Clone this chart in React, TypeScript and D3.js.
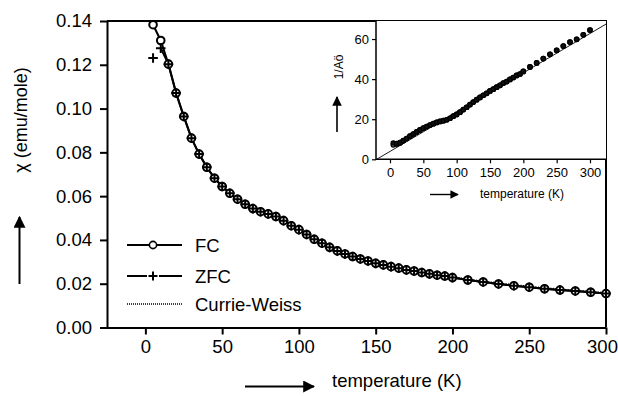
import React, { useEffect, useRef } from 'react';
import * as d3 from 'd3';

// temperatures (K) of the measured points
const temps = [
  5, 10, 15, 20, 25, 30, 35, 40, 45, 50, 55, 60, 65, 70, 75, 80, 85, 90, 95, 100,
  105, 110, 115, 120, 125, 130, 135, 140, 145, 150, 155, 160, 165, 170, 175, 180, 185, 190, 195, 200,
  210, 220, 230, 240, 250, 260, 270, 280, 290, 300,
];

// field cooled susceptibility (emu/mole)
const fcValues = [
  0.1383, 0.1311, 0.1203, 0.1071, 0.0964, 0.0865, 0.0792, 0.0732, 0.0682, 0.0644,
  0.0613, 0.0586, 0.0563, 0.0543, 0.0529, 0.0519, 0.0507, 0.0488, 0.0465, 0.0447,
  0.0425, 0.0403, 0.0385, 0.0366, 0.035, 0.0336, 0.0324, 0.0313, 0.0304, 0.0293,
  0.0286, 0.0278, 0.0271, 0.0263, 0.0258, 0.0251, 0.0245, 0.0239, 0.0235, 0.0228,
  0.0217, 0.0208, 0.0199, 0.0191, 0.0184, 0.0177, 0.0171, 0.0167, 0.0161, 0.0155,
];

// zero field cooled susceptibility (emu/mole)
const zfcValues = [
  0.1231, 0.1276, 0.1203, 0.1071, 0.0964, 0.0865, 0.0792, 0.0732, 0.0682, 0.0644,
  0.0613, 0.0586, 0.0563, 0.0543, 0.0529, 0.0519, 0.0507, 0.0488, 0.0465, 0.0447,
  0.0425, 0.0403, 0.0385, 0.0366, 0.035, 0.0336, 0.0324, 0.0313, 0.0304, 0.0293,
  0.0286, 0.0278, 0.0271, 0.0263, 0.0258, 0.0251, 0.0245, 0.0239, 0.0235, 0.0228,
  0.0217, 0.0208, 0.0199, 0.0191, 0.0184, 0.0177, 0.0171, 0.0167, 0.0161, 0.0155,
];

// Curie-Weiss fit parameters
const cwC = 5.1;
const cwTheta = -20;

const xTicks = [0, 50, 100, 150, 200, 250, 300];
const yTicks = [0, 0.02, 0.04, 0.06, 0.08, 0.1, 0.12, 0.14];
const insetXTicks = [0, 50, 100, 150, 200, 250, 300];
const insetYTicks = [0, 20, 40, 60];

const legendItems = ['FC', 'ZFC', 'Currie-Weiss'];

const FONT = '"Liberation Sans", Arial, sans-serif';

const App = () => {
  const ref = useRef<SVGSVGElement | null>(null);

  useEffect(() => {
    const svg = d3.select(ref.current);
    svg.selectAll('*').remove();

    // arrowhead
    svg
      .append('defs')
      .append('marker')
      .attr('id', 'arr')
      .attr('viewBox', '0 0 10 10')
      .attr('refX', 9)
      .attr('refY', 5)
      .attr('markerWidth', 6)
      .attr('markerHeight', 6)
      .attr('markerUnits', 'strokeWidth')
      .attr('orient', 'auto')
      .append('path')
      .attr('d', 'M0,0 L10,5 L0,10 z')
      .attr('fill', '#000');

    const left = 107, right = 606, top = 21, bottom = 327.5;
    const x = d3.scaleLinear().domain([-25, 300]).range([left, right]);
    const y = d3.scaleLinear().domain([0, 0.14]).range([bottom, top]);

    const g = svg.append('g');

    // frame: top and right
    g.append('path')
      .attr('d', `M${left},${top} H${right} V${bottom}`)
      .attr('fill', 'none')
      .attr('stroke', '#000')
      .attr('stroke-width', 2);

    const xAxis = g
      .append('g')
      .attr('transform', `translate(0,${bottom})`)
      .call(d3.axisBottom(x).tickValues(xTicks).tickSize(7).tickSizeOuter(0).tickPadding(5));
    xAxis.select('.domain').attr('stroke-width', 2).attr('d', `M${left - 7},0.5H${right}`);
    xAxis.selectAll('.tick line').attr('stroke-width', 2);
    xAxis.selectAll('.tick text').style('font-family', FONT).style('font-size', '18.5px').attr('fill', '#000');
    xAxis.selectAll('.tick text').filter((d) => d === 300).attr('x', -4);

    const yAxis = g
      .append('g')
      .attr('transform', `translate(${left},0)`)
      .call(d3.axisLeft(y).tickValues(yTicks).tickFormat(d3.format('.2f')).tickSize(7).tickSizeOuter(0).tickPadding(8));
    yAxis.select('.domain').attr('stroke-width', 2);
    yAxis.selectAll('.tick line').attr('stroke-width', 2);
    yAxis.selectAll('.tick text').style('font-family', FONT).style('font-size', '18.5px').attr('fill', '#000');

    // axis titles with arrows
    g.append('text')
      .attr('transform', `translate(27,120) rotate(-90)`)
      .attr('text-anchor', 'middle')
      .style('font-family', FONT)
      .style('font-size', '18px')
      .text('χ (emu/mole)');
    g.append('line')
      .attr('x1', 19.5).attr('x2', 19.5).attr('y1', 284).attr('y2', 217)
      .attr('stroke', '#000').attr('stroke-width', 2).attr('marker-end', 'url(#arr)');

    g.append('line')
      .attr('x1', 245).attr('x2', 314).attr('y1', 386.5).attr('y2', 386.5)
      .attr('stroke', '#000').attr('stroke-width', 2).attr('marker-end', 'url(#arr)');
    g.append('text')
      .attr('x', 332)
      .attr('y', 387)
      .style('font-family', FONT)
      .style('font-size', '18.5px')
      .text('temperature (K)');

    // Curie-Weiss fit (dotted)
    const cwT = d3.range(120, 301, 2);
    g.append('path')
      .datum(cwT)
      .attr('fill', 'none')
      .attr('stroke', '#000')
      .attr('stroke-width', 1.2)
      .attr('stroke-dasharray', '1,1.5')
      .attr('d', d3.line<number>().x((t) => x(t)).y((t) => y(cwC / (t - cwTheta))));

    const fcData = temps.map((t, i) => ({ t, v: fcValues[i] }));
    const zfcData = temps.map((t, i) => ({ t, v: zfcValues[i] }));
    const line = d3.line<any>().x((d) => x(d.t)).y((d) => y(d.v));

    g.append('path').datum(fcData).attr('fill', 'none').attr('stroke', '#000').attr('stroke-width', 2).attr('d', line);
    g.append('path').datum(zfcData.slice(1)).attr('fill', 'none').attr('stroke', '#000').attr('stroke-width', 2).attr('d', line);

    g.selectAll('.fc')
      .data(fcData)
      .enter()
      .append('circle')
      .attr('cx', (d) => x(d.t))
      .attr('cy', (d) => y(d.v))
      .attr('r', 3.8)
      .attr('fill', '#fff')
      .attr('stroke', '#000')
      .attr('stroke-width', 2);

    const plus = (sel, cx, cy, s) => {
      sel.append('path')
        .attr('d', `M${cx - s},${cy} H${cx + s} M${cx},${cy - s} V${cy + s}`)
        .attr('stroke', '#000')
        .attr('stroke-width', 2);
    };
    zfcData.forEach((d) => plus(g, x(d.t), y(d.v), 4.8));

    // legend
    const lx1 = 127, lx2 = 182, lmid = 153;
    const ly = [245, 276, 304];
    legendItems.forEach((label, i) => {
      g.append('text')
        .attr('x', 195)
        .attr('y', ly[i] + 6.5)
        .style('font-family', FONT)
        .style('font-size', '18.5px')
        .text(label);
    });
    g.append('line').attr('x1', lx1).attr('x2', lx2).attr('y1', ly[0]).attr('y2', ly[0]).attr('stroke', '#000').attr('stroke-width', 2);
    g.append('circle').attr('cx', lmid).attr('cy', ly[0]).attr('r', 3.6).attr('fill', '#fff').attr('stroke', '#000').attr('stroke-width', 1.6);
    g.append('line').attr('x1', lx1).attr('x2', lmid - 6).attr('y1', ly[1]).attr('y2', ly[1]).attr('stroke', '#000').attr('stroke-width', 2);
    g.append('line').attr('x1', lmid + 6).attr('x2', lx2).attr('y1', ly[1]).attr('y2', ly[1]).attr('stroke', '#000').attr('stroke-width', 2);
    plus(g, lmid, ly[1], 4.5);
    g.append('line').attr('x1', lx1).attr('x2', lx2).attr('y1', ly[2]).attr('y2', ly[2])
      .attr('stroke', '#000').attr('stroke-width', 1.5).attr('stroke-dasharray', '1,1');

    // inset: 1/chi vs T
    const iLeft = 376, iRight = 606, iTop = 21, iBottom = 159.3;
    const ix = d3.scaleLinear().domain([-21, 324]).range([iLeft, iRight]);
    const iy = d3.scaleLinear().domain([0, 69]).range([iBottom, iTop]);
    const ig = svg.append('g');

    ig.append('rect')
      .attr('x', iLeft).attr('y', iTop).attr('width', iRight - iLeft).attr('height', iBottom - iTop)
      .attr('fill', '#fff');

    ig.append('path')
      .attr('d', `M${iLeft},${iTop} V${iBottom} H${iRight}`)
      .attr('fill', 'none').attr('stroke', '#000').attr('stroke-width', 1.5);

    const ixAxis = ig
      .append('g')
      .attr('transform', `translate(0,${iBottom})`)
      .call(d3.axisBottom(ix).tickValues(insetXTicks).tickSize(4).tickSizeOuter(0).tickPadding(4));
    ixAxis.select('.domain').remove();
    ixAxis.selectAll('.tick line').attr('stroke-width', 1.2);
    ixAxis.selectAll('.tick text').style('font-family', FONT).style('font-size', '13px').attr('fill', '#000');

    const iyAxis = ig
      .append('g')
      .attr('transform', `translate(${iLeft},0)`)
      .call(d3.axisLeft(iy).tickValues(insetYTicks).tickSize(4).tickSizeOuter(0).tickPadding(3));
    iyAxis.select('.domain').remove();
    iyAxis.selectAll('.tick line').attr('stroke-width', 1.2);
    iyAxis.selectAll('.tick text').style('font-family', FONT).style('font-size', '13px').attr('fill', '#000');

    // Curie-Weiss straight line
    ig.append('line')
      .attr('x1', ix(cwTheta)).attr('y1', iy(0))
      .attr('x2', ix(324)).attr('y2', iy((324 - cwTheta) / cwC))
      .attr('stroke', '#000').attr('stroke-width', 0.9);

    const inv = [...fcData, ...zfcData].map((d) => ({ t: d.t, v: 1 / d.v }));
    ig.selectAll('.inv')
      .data(inv)
      .enter()
      .append('circle')
      .attr('cx', (d) => ix(d.t))
      .attr('cy', (d) => iy(d.v))
      .attr('r', 2.2)
      .attr('fill', (d, i) => (i === 0 ? '#fff' : '#111'))
      .attr('stroke', '#000')
      .attr('stroke-width', 1.3);

    ig.append('text')
      .attr('transform', `translate(343,67) rotate(-90)`)
      .attr('text-anchor', 'middle')
      .style('font-family', FONT)
      .style('font-size', '12px')
      .text('1/Aö');
    ig.append('line')
      .attr('x1', 337).attr('x2', 337).attr('y1', 132).attr('y2', 97)
      .attr('stroke', '#000').attr('stroke-width', 1.6).attr('marker-end', 'url(#arr)');

    ig.append('line')
      .attr('x1', 430).attr('x2', 458).attr('y1', 194.5).attr('y2', 194.5)
      .attr('stroke', '#000').attr('stroke-width', 1.4).attr('marker-end', 'url(#arr)');
    ig.append('text')
      .attr('x', 480)
      .attr('y', 198)
      .style('font-family', FONT)
      .style('font-size', '12px')
      .text('temperature (K)');
  }, []);

  return (
    <svg
      ref={ref}
      width={618}
      height={396}
      style={{ position: 'absolute', left: 0, top: 0, background: '#fff' }}
    />
  );
};

export default App;
